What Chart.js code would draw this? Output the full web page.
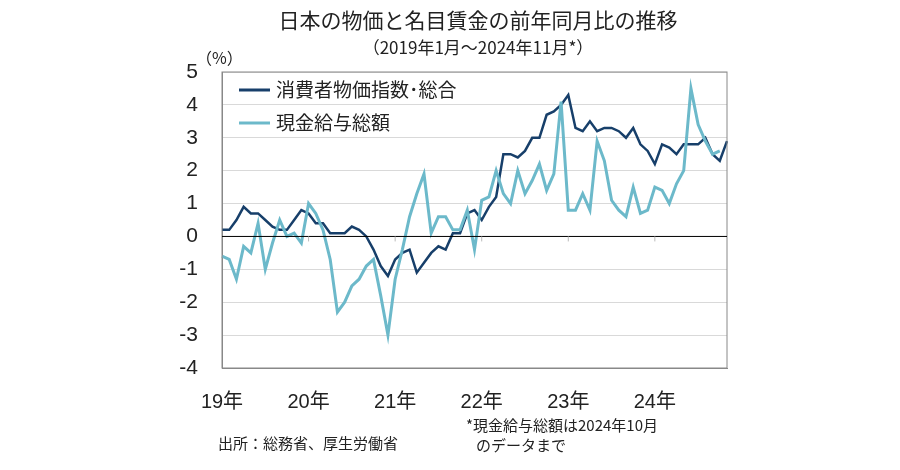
<!DOCTYPE html>
<html>
<head>
<meta charset="utf-8">
<script src="https://cdn.jsdelivr.net/npm/chart.js@4.4.0/dist/chart.umd.min.js"></script>
<style>
  body { margin: 0; background: #fff; }
  #wrap { width: 900px; height: 470px; }
</style>
</head>
<body>
<div id="wrap"><canvas id="c" width="900" height="470"></canvas></div>
<script>
// Jan 2019 .. Nov 2024
const months = [];
for (let y = 2019; y <= 2024; y++) {
    for (let m = 1; m <= 12; m++) {
        if (y === 2024 && m === 12) break;
        months.push(y + '-' + m);
    }
}
const yearLabels = ['19年', '20年', '21年', '22年', '23年', '24年'];

const cpi = [
    0.2, 0.2, 0.5, 0.9, 0.7, 0.7, 0.5, 0.3, 0.2, 0.2, 0.5, 0.8,
    0.7, 0.4, 0.4, 0.1, 0.1, 0.1, 0.3, 0.2, 0.0, -0.4, -0.9, -1.2,
    -0.7, -0.5, -0.4, -1.1, -0.8, -0.5, -0.3, -0.4, 0.1, 0.1, 0.7, 0.8,
    0.5, 0.9, 1.2, 2.5, 2.5, 2.4, 2.6, 3.0, 3.0, 3.7, 3.8, 4.0,
    4.3, 3.3, 3.2, 3.5, 3.2, 3.3, 3.3, 3.2, 3.0, 3.3, 2.8, 2.6,
    2.2, 2.8, 2.7, 2.5, 2.8, 2.8, 2.8, 3.0, 2.5, 2.3, 2.9
];
const wages = [
    -0.6, -0.7, -1.3, -0.3, -0.5, 0.4, -1.0, -0.2, 0.5, 0.0, 0.1, -0.2,
    1.0, 0.7, 0.2, -0.7, -2.3, -2.0, -1.5, -1.3, -0.9, -0.7, -1.8, -3.0,
    -1.3, -0.4, 0.6, 1.3, 1.9, 0.1, 0.6, 0.6, 0.2, 0.2, 0.8, -0.4,
    1.1, 1.2, 2.0, 1.3, 1.0, 2.0, 1.3, 1.7, 2.2, 1.4, 1.9, 4.1,
    0.8, 0.8, 1.3, 0.8, 2.9, 2.3, 1.1, 0.8, 0.6, 1.5, 0.7, 0.8,
    1.5, 1.4, 1.0, 1.6, 2.0, 4.5, 3.4, 2.9, 2.5, 2.6, null
];

const darkBlue = '#173f6a';
const lightBlue = '#6cb9ca';
const fontFamily = '"Liberation Sans", "Noto Sans CJK JP", sans-serif';
const jpFont = '"Noto Sans CJK JP", sans-serif';

const overlay = {
    id: 'overlay',
    afterDraw(chart) {
        const ctx = chart.ctx;
        const area = chart.chartArea;
        const xs = chart.scales.x;
        const ys = chart.scales.y;
        ctx.save();
        // frame
        ctx.strokeStyle = '#888';
        ctx.lineWidth = 1;
        ctx.strokeRect(area.left, area.top, area.right - area.left, area.bottom - area.top);
        // zero line + small ticks
        const y0 = ys.getPixelForValue(0);
        ctx.strokeStyle = '#000';
        ctx.beginPath();
        ctx.moveTo(area.left, y0);
        ctx.lineTo(area.right, y0);
        ctx.stroke();
        ctx.strokeStyle = '#bbb';
        for (let i = 12; i < months.length; i += 12) {
            const x = xs.getPixelForValue(i);
            ctx.beginPath();
            ctx.moveTo(x, y0);
            ctx.lineTo(x, y0 + 5);
            ctx.stroke();
        }
        // titles
        ctx.fillStyle = '#222';
        ctx.textAlign = 'center';
        ctx.textBaseline = 'middle';
        ctx.font = '21px ' + jpFont;
        ctx.fillText('日本の物価と名目賃金の前年同月比の推移', 478, 20);
        ctx.font = '17px ' + jpFont;
        ctx.fillText('（2019年1月～2024年11月*）', 478, 48);
        ctx.textAlign = 'left';
        ctx.font = '16px ' + jpFont;
        ctx.fillText('（%）', 196, 58);
        // legend
        const items = [['消費者物価指数･総合', darkBlue], ['現金給与総額', lightBlue]];
        items.forEach((it, k) => {
            const ly = 90 + k * 33;
            ctx.strokeStyle = it[1];
            ctx.lineWidth = 3;
            ctx.beginPath();
            ctx.moveTo(239, ly);
            ctx.lineTo(270, ly);
            ctx.stroke();
            ctx.fillStyle = '#222';
            ctx.font = '19px ' + jpFont;
            ctx.fillText(it[0], 276, ly);
        });
        // notes
        ctx.font = '15px ' + jpFont;
        ctx.fillText('出所：総務省、厚生労働省', 218, 443);
        ctx.fillText('*現金給与総額は2024年10月', 466, 425);
        ctx.fillText('のデータまで', 476, 445);
        ctx.restore();
    }
};

new Chart(document.getElementById('c'), {
    type: 'line',
    data: {
        labels: months,
        datasets: [
            { label: '現金給与総額', data: wages, borderColor: lightBlue, borderWidth: 3, pointRadius: 0, tension: 0 },
            { label: '消費者物価指数･総合', data: cpi, borderColor: darkBlue, borderWidth: 2.5, pointRadius: 0, tension: 0 }
        ]
    },
    options: {
        responsive: false,
        animation: false,
        layout: { padding: { left: 0, right: 173, top: 72, bottom: 0 } },
        plugins: { legend: { display: false }, tooltip: { enabled: false } },
        scales: {
            x: {
                offset: false,
                grid: { display: false, drawTicks: false },
                border: { display: true, color: '#888' },
                afterFit(s) { s.height = 102; },
                ticks: {
                    autoSkip: false,
                    maxRotation: 0,
                    padding: 22,
                    color: '#222',
                    font: { size: 20, family: fontFamily },
                    callback(v, i) { return i % 12 === 0 ? yearLabels[i / 12] : ''; }
                }
            },
            y: {
                min: -4, max: 5,
                afterFit(s) { s.width = 222; },
                grid: { color: '#d9d9d9', drawTicks: false },
                border: { display: true, color: '#888' },
                ticks: {
                    stepSize: 1,
                    padding: 24,
                    color: '#222',
                    font: { size: 21, family: fontFamily }
                }
            }
        }
    },
    plugins: [overlay]
});
</script>
</body>
</html>
